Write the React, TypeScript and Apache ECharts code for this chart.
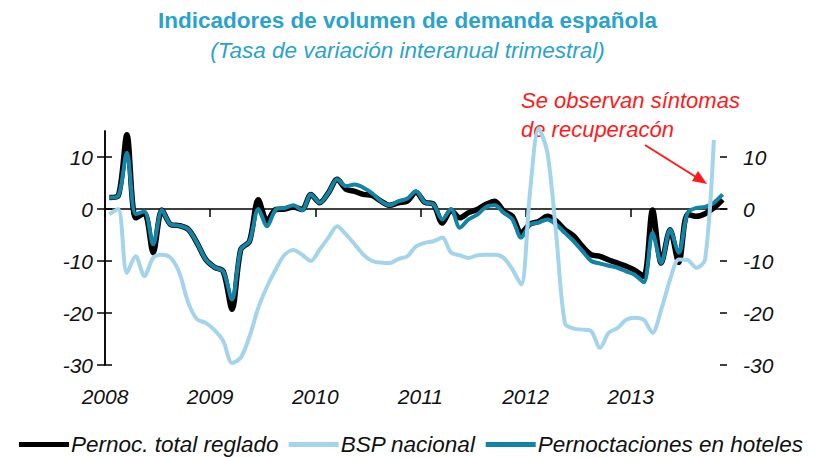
import React, { useEffect, useRef } from "react";
import * as echarts from "echarts";

// Monthly values, Jan 2008 .. Nov 2013 (points sit at mid-month)
const pernocTotal = [
  2.2, 2.5, 14.3, -1.7, -0.8, -8.4, -0.2, -3, -3.2, -3.9, -6.5, -9.7,
  -11.2, -12, -19.3, -7.8, -6.2, 1.8, -2.3, -0.1, 0, 0.4, -0.1, 2.8,
  1.2, 3.1, 5.7, 3.8, 3.4, 2.8, 2.6, 1.5, 0.7, 1.2, 1.5, 3.2,
  1.3, 0.9, -2.7, -0.3, -1.7, -0.7, -0.1, 0.9, 1.5, -0.4, -1.4, -4.6,
  -2.9, -2.4, -1.4, -2.3, -4, -5.2, -7.2, -8.8, -9.1, -9.8, -10.4, -11,
  -11.8, -13, -0.2, -10.4, -4, -10.3, -1, -1.4, -0.9, 0.2, 1.8,
];
const bspNacional = [
  -1, 0, -12.3, -9.1, -12.9, -9.4, -8.8, -9.4, -12.3, -18, -21.2, -21.9,
  -23.3, -25.4, -29.6, -28.6, -24.5, -19, -14.9, -11.6, -8.8, -7.9, -8.8, -10,
  -7.8, -5.5, -3.3, -4.9, -6.8, -8.8, -10, -10.3, -10.4, -9.6, -9.1, -7.2,
  -6.5, -6.2, -5.5, -8.4, -8.9, -9.4, -8.9, -8.8, -8.8, -9.4, -11.6, -14.5,
  3, 15.5, 10.8, -4.8, -22, -23, -23.2, -23.5, -26.7, -23.8, -22.9, -21.3,
  -20.9, -21.3, -23.8, -19.3, -13.6, -9.7, -9.8, -11.3, -9.7, 13.3, null,
];
const pernocHoteles = [
  2.2, 2.5, 10.8, -1, -0.5, -6.8, -0.2, -3, -3.2, -3.9, -6.5, -9.7,
  -11.2, -12, -17.4, -7.8, -6.2, 0, -3.3, -0.1, 0.2, 0.7, -0.2, 2.8,
  1.2, 3.1, 5.7, 4.4, 4.7, 4.1, 3, 1.5, 0.7, 1.5, 2, 3.4,
  1.3, 0.9, -2, 0, -3.6, -2, -1.1, 0.4, 0.7, -0.7, -2, -5.5,
  -3, -2.6, -2, -3, -4.6, -6.2, -8.1, -10, -10.5, -10.9, -11.3, -12,
  -12.7, -14.1, -4.6, -10.4, -4, -8.4, -0.7, 0.2, 0.4, 1.2, 2.8,
];
const seriesNames = ["Pernoc. total reglado", "BSP nacional", "Pernoctaciones en hoteles"];
const yearLabels = ["2008", "2009", "2010", "2011", "2012", "2013"];
const yearTickMonths = [0, 12, 24, 36, 48, 60];
const yTicks = [-30, -20, -10, 0, 10];

const FONT = "'Liberation Sans', Arial, sans-serif";
const toPairs = (arr: (number | null)[]) => arr.map((v, i) => [i + 0.5, v]);

export default function App() {
  const ref = useRef<HTMLDivElement>(null);
  useEffect(() => {
    document.body.style.margin = "0";
    const chart = echarts.init(ref.current!, null, { renderer: "svg" });
    const axisLabelStyle = { fontFamily: FONT, fontSize: 21, fontStyle: "italic" as const, color: "#111" };
    chart.setOption({
      animation: false,
      backgroundColor: "#fff",
      title: [
        {
          text: "Indicadores de volumen de demanda española",
          left: "center",
          top: 4,
          textStyle: { fontFamily: FONT, fontSize: 22.5, fontWeight: "bold", color: "#2aa3cc" },
        },
        {
          text: "(Tasa de variación interanual trimestral)",
          left: "center",
          top: 34,
          textStyle: { fontFamily: FONT, fontSize: 22.5, fontWeight: "normal", fontStyle: "italic", color: "#2aa3cc" },
        },
      ],
      grid: { left: 105, right: 88, top: 131, bottom: 92 },
      xAxis: [
        {
          type: "value",
          min: 0,
          max: 71,
          position: "bottom",
          axisLine: { onZero: true, lineStyle: { color: "#000", width: 1.5 } },
          axisTick: { show: true, customValues: yearTickMonths, length: 8, lineStyle: { color: "#000", width: 1.5 } },
          axisLabel: { show: false },
          splitLine: { show: false },
        },
        {
          type: "value",
          min: 0,
          max: 71,
          position: "bottom",
          axisLine: { show: false, onZero: false },
          axisTick: { show: false },
          axisLabel: {
            customValues: yearTickMonths,
            margin: 21,
            ...axisLabelStyle,
            formatter: (v: number) => {
              const k = yearTickMonths.indexOf(v);
              return k >= 0 ? yearLabels[k] : "";
            },
          },
          splitLine: { show: false },
        },
      ],
      yAxis: [
        {
          type: "value",
          min: -30,
          max: 15,
          position: "left",
          axisLine: { show: true, lineStyle: { color: "#000", width: 1.5 } },
          axisTick: { show: true, customValues: yTicks, length: 8, lineStyle: { color: "#000", width: 1.5 } },
          axisLabel: { customValues: yTicks, margin: 12, ...axisLabelStyle },
          splitLine: { show: false },
        },
        {
          type: "value",
          min: -30,
          max: 15,
          position: "right",
          axisLine: { show: true, lineStyle: { color: "#000", width: 1.5 } },
          axisTick: { show: true, customValues: yTicks, length: 7, lineStyle: { color: "#000", width: 1.5 } },
          axisLabel: { customValues: yTicks, margin: 16, ...axisLabelStyle },
          splitLine: { show: false },
        },
        {
          type: "value",
          min: -30,
          max: 15,
          position: "right",
          axisLine: { show: false },
          axisTick: { show: true, inside: true, customValues: yTicks, length: 7, lineStyle: { color: "#000", width: 1.5 } },
          axisLabel: { show: false },
          splitLine: { show: false },
        },
      ],
      legend: {
        data: seriesNames,
        left: 14,
        top: 428,
        icon: "rect",
        itemWidth: 50,
        itemHeight: 5,
        itemGap: 10,
        textStyle: { fontFamily: FONT, fontSize: 22.5, fontStyle: "italic", color: "#111", padding: [0, 0, 0, -3] },
      },
      series: [
        {
          name: seriesNames[0],
          type: "line",
          data: toPairs(pernocTotal),
          showSymbol: false,
          smooth: 0.3,
          clip: false,
          lineStyle: { color: "#000", width: 5.5 },
          itemStyle: { color: "#000" },
        },
        {
          name: seriesNames[2],
          type: "line",
          data: toPairs(pernocHoteles),
          showSymbol: false,
          smooth: 0.3,
          clip: false,
          lineStyle: { color: "#1284a6", width: 4 },
          itemStyle: { color: "#1284a6" },
        },
        {
          name: seriesNames[1],
          type: "line",
          data: toPairs(bspNacional),
          showSymbol: false,
          smooth: 0.3,
          clip: false,
          connectNulls: false,
          lineStyle: { color: "#a3d4ec", width: 4 },
          itemStyle: { color: "#a3d4ec" },
        },
      ],
      graphic: [
        {
          type: "text",
          left: 521,
          top: 89,
          style: { text: "Se observan síntomas", fontFamily: FONT, fontSize: 22, fontStyle: "italic", fill: "#ff1a1a" },
        },
        {
          type: "text",
          left: 521,
          top: 118,
          style: { text: "de recuperacón", fontFamily: FONT, fontSize: 22, fontStyle: "italic", fill: "#ff1a1a" },
        },
        {
          type: "line",
          shape: { x1: 645, y1: 145, x2: 696, y2: 177 },
          style: { stroke: "#ff1a1a", lineWidth: 2 },
        },
        {
          type: "polygon",
          shape: { points: [[707, 184], [692, 181], [698, 171]] },
          style: { fill: "#ff1a1a" },
        },
      ],
    });
    return () => chart.dispose();
  }, []);
  return <div ref={ref} style={{ width: 815, height: 457 }} />;
}
